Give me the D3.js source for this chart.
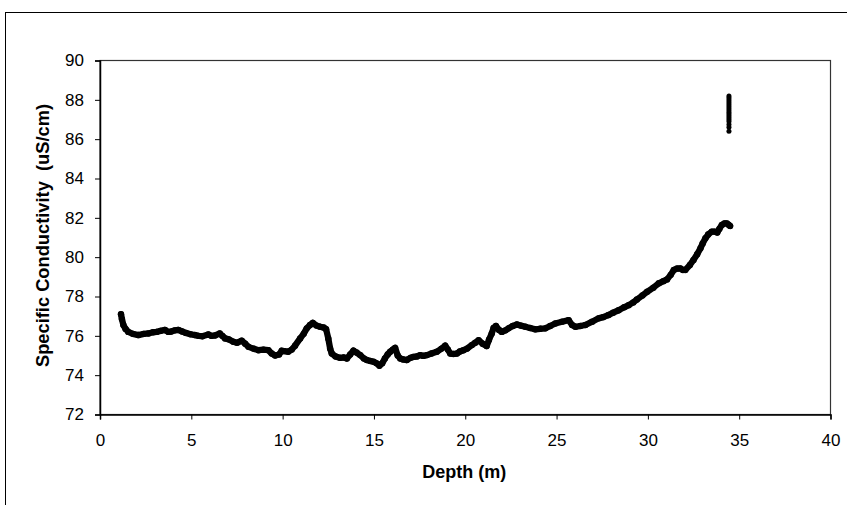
<!DOCTYPE html>
<html>
<head>
<meta charset="utf-8">
<script src="https://cdn.jsdelivr.net/npm/d3@7"></script>
<style>
  html, body { margin: 0; padding: 0; background: #fff; }
  svg { display: block; }
  text { font-family: "Liberation Sans", Arial, sans-serif; fill: #000; white-space: pre; }
</style>
</head>
<body>
<div id="chart"></div>
<script>
// Depth (m) and specific conductivity (uS/cm)
const depth = [1.15, 1.2, 1.28, 1.4, 1.55, 1.8, 2.1, 2.4, 2.65, 2.9, 3.1, 3.3, 3.56, 3.75, 3.9, 4.1, 4.29, 4.5, 4.7, 4.95, 5.2, 5.4, 5.6, 5.93, 6.1, 6.3, 6.56, 6.7, 6.85, 7.05, 7.3, 7.5, 7.76, 7.95, 8.13, 8.4, 8.68, 8.95, 9.22, 9.4, 9.59, 9.8, 9.95, 10.1, 10.3, 10.5, 10.68, 10.96, 11.15, 11.32, 11.5, 11.65, 11.85, 12.05, 12.25, 12.38, 12.5, 12.6, 12.69, 12.9, 13.15, 13.35, 13.52, 13.7, 13.88, 14.05, 14.25, 14.45, 14.61, 14.8, 14.98, 15.15, 15.3, 15.45, 15.6, 15.75, 15.89, 16.03, 16.16, 16.3, 16.44, 16.6, 16.8, 17.0, 17.17, 17.35, 17.53, 17.7, 17.9, 18.15, 18.44, 18.7, 18.9, 19.05, 19.18, 19.35, 19.54, 19.7, 19.9, 20.1, 20.36, 20.55, 20.73, 20.95, 21.17, 21.3, 21.45, 21.55, 21.68, 21.85, 22.0, 22.2, 22.37, 22.6, 22.83, 23.05, 23.29, 23.55, 23.84, 24.1, 24.38, 24.65, 24.93, 25.3, 25.66, 25.85, 26.03, 26.3, 26.58, 26.95, 27.3, 27.55, 27.85, 28.1, 28.4, 28.7, 28.95, 29.2, 29.4, 29.7, 29.96, 30.3, 30.6, 30.85, 31.05, 31.25, 31.42, 31.6, 31.78, 31.92, 32.05, 32.3, 32.5, 32.7, 32.88, 33.0, 33.15, 33.3, 33.5, 33.65, 33.8, 33.92, 34.05, 34.2, 34.32, 34.42, 34.5];
const conductivity = [77.1, 76.85, 76.55, 76.35, 76.2, 76.1, 76.04, 76.1, 76.12, 76.18, 76.2, 76.25, 76.3, 76.2, 76.22, 76.28, 76.3, 76.22, 76.15, 76.08, 76.04, 76.0, 75.98, 76.07, 76.0, 76.02, 76.12, 76.0, 75.87, 75.82, 75.7, 75.65, 75.75, 75.6, 75.44, 75.35, 75.27, 75.3, 75.27, 75.1, 75.0, 75.05, 75.24, 75.22, 75.19, 75.3, 75.5, 75.87, 76.1, 76.38, 76.55, 76.66, 76.52, 76.46, 76.42, 76.34, 75.87, 75.36, 75.1, 74.95, 74.88, 74.9, 74.85, 75.05, 75.25, 75.15, 75.02, 74.85, 74.77, 74.72, 74.68, 74.6, 74.48, 74.6, 74.85, 75.05, 75.19, 75.3, 75.39, 75.0, 74.85, 74.8, 74.77, 74.88, 74.93, 74.95, 75.02, 74.98, 75.02, 75.1, 75.19, 75.35, 75.5, 75.3, 75.1, 75.08, 75.1, 75.2, 75.27, 75.35, 75.53, 75.65, 75.78, 75.6, 75.48, 75.8, 76.12, 76.4, 76.5, 76.3, 76.2, 76.28, 76.38, 76.5, 76.58, 76.52, 76.46, 76.4, 76.33, 76.36, 76.38, 76.5, 76.63, 76.72, 76.8, 76.55, 76.46, 76.5, 76.55, 76.72, 76.89, 76.95, 77.06, 77.18, 77.3, 77.45, 77.56, 77.7, 77.85, 78.05, 78.24, 78.45, 78.67, 78.78, 78.87, 79.1, 79.35, 79.42, 79.43, 79.35, 79.35, 79.6, 79.86, 80.15, 80.45, 80.7, 80.96, 81.15, 81.3, 81.3, 81.25, 81.45, 81.64, 81.72, 81.72, 81.65, 81.59];
// Vertical cluster of readings at the bottom of the hole
const spikeDepth = [34.44, 34.44, 34.44, 34.44, 34.44, 34.44, 34.44, 34.44, 34.44, 34.44, 34.44, 34.44, 34.44, 34.44, 34.44, 34.44, 34.44];
const spikeValue = [88.2, 88.1, 88.0, 87.9, 87.8, 87.7, 87.6, 87.5, 87.4, 87.3, 87.2, 87.1, 87.0, 86.9, 86.75, 86.6, 86.4];

const xTicks = [0, 5, 10, 15, 20, 25, 30, 35, 40];
const yTicks = [72, 74, 76, 78, 80, 82, 84, 86, 88, 90];
const xTitle = "Depth (m)";
const yTitle = "Specific Conductivity  (uS/cm)";

const W = 847, H = 505;
const plot = { left: 100, right: 830.5, top: 60.5, bottom: 414.5 };

const svg = d3.select("#chart").append("svg").attr("width", W).attr("height", H);

// outer chart frame (extends past the window on right and bottom)
svg.append("rect").attr("x", 5.5).attr("y", 12.5).attr("width", 1000).attr("height", 1000)
  .attr("fill", "#fff").attr("stroke", "#000").attr("stroke-width", 1);

const x = d3.scaleLinear().domain([0, 40]).range([plot.left, plot.right]);
const y = d3.scaleLinear().domain([72, 90]).range([plot.bottom, plot.top]);

// plot area border
svg.append("rect").attr("x", plot.left).attr("y", plot.top)
  .attr("width", plot.right - plot.left).attr("height", plot.bottom - plot.top)
  .attr("fill", "none").attr("stroke", "#333").attr("stroke-width", 1.2);

const xAxis = svg.append("g").attr("transform", `translate(0,${plot.bottom})`)
  .call(d3.axisBottom(x).tickValues(xTicks).tickSize(5).tickPadding(14).tickFormat(d3.format("d")));
const yAxis = svg.append("g").attr("transform", `translate(${plot.left},0)`)
  .call(d3.axisLeft(y).tickValues(yTicks).tickSize(5).tickPadding(11).tickFormat(d3.format("d")));

[xAxis, yAxis].forEach(g => {
  g.select(".domain").attr("stroke", "#000").attr("stroke-width", 1.5);
  g.selectAll(".tick line").attr("stroke", "#000").attr("stroke-width", 1);
  g.selectAll(".tick text").attr("font-size", 17).attr("font-family", "Liberation Sans, Arial, sans-serif").attr("fill", "#000");
});

// data: dense markers rendered as a thick trace
const pts = depth.map((d, i) => [d, conductivity[i]]);
const line = d3.line().x(d => x(d[0])).y(d => y(d[1])).curve(d3.curveLinear);
svg.append("path").datum(pts).attr("d", line)
  .attr("fill", "none").attr("stroke", "#000").attr("stroke-width", 6.3)
  .attr("stroke-linejoin", "round").attr("stroke-linecap", "round");
svg.append("g").selectAll("circle").data(pts).join("circle")
  .attr("cx", d => x(d[0])).attr("cy", d => y(d[1])).attr("r", 3.2).attr("fill", "#000");

svg.append("g").selectAll("circle").data(spikeDepth.map((d, i) => [d, spikeValue[i]])).join("circle")
  .attr("cx", d => x(d[0])).attr("cy", d => y(d[1])).attr("r", 2.5).attr("fill", "#000");

// axis titles
svg.append("text").attr("x", (plot.left + plot.right) / 2 - 1).attr("y", 478)
  .attr("text-anchor", "middle").attr("font-weight", "bold").attr("font-size", 18)
  .text(xTitle);
svg.append("text").attr("transform", `translate(49,${(plot.top + plot.bottom) / 2 - 2}) rotate(-90)`)
  .attr("text-anchor", "middle").attr("font-weight", "bold").attr("font-size", 18.3)
  .text(yTitle);
</script>
</body>
</html>
